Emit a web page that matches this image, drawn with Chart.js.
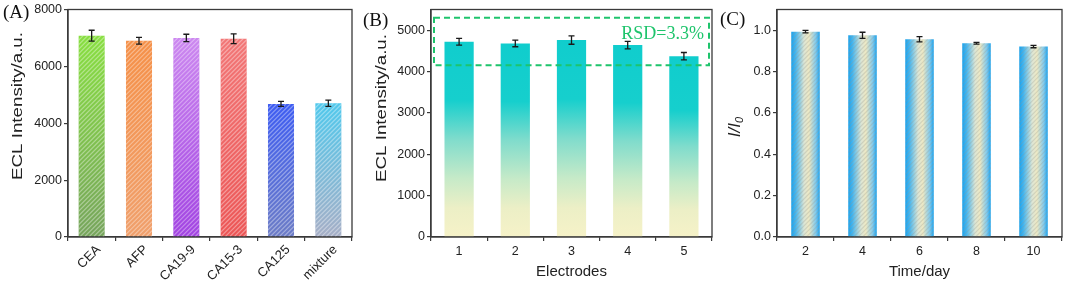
<!DOCTYPE html>
<html><head><meta charset="utf-8">
<script src="https://cdn.jsdelivr.net/npm/chart.js@4.4.0/dist/chart.umd.min.js"></script>
<style>
html,body{margin:0;padding:0;background:#fff;width:1065px;height:281px;overflow:hidden}
.p{position:absolute;top:0;height:281px}
.lab{position:absolute;font-family:'Liberation Serif','Times New Roman',serif;font-size:19px;color:#111;line-height:1;white-space:nowrap}
</style></head><body>
<div class="p" style="left:0;width:356px"><canvas id="cA" width="356" height="281"></canvas></div>
<div class="p" style="left:358px;width:356px"><canvas id="cB" width="356" height="281"></canvas></div>
<div class="p" style="left:716px;width:349px"><canvas id="cC" width="349" height="281"></canvas></div>
<div class="lab" style="left:3px;top:2px">(A)</div>
<div class="lab" style="left:363px;top:10px">(B)</div>
<div class="lab" style="left:720px;top:9px">(C)</div>
<script>
// ---- data ----
const catsA = ['CEA', 'AFP', 'CA19-9', 'CA15-3', 'CA125', 'mixture'];
const valsA = [7080, 6900, 7000, 6970, 4680, 4700];
const errA  = [190, 120, 130, 170, 90, 110];
const yTicksA = [0, 2000, 4000, 6000, 8000];
const topColorsA = ['#88df40', '#f59048', '#cc88f0', '#f27676', '#3d5cf2', '#50c8ec'];
const botColorsA = ['#76a45c', '#f0a06c', '#a244e2', '#ec5656', '#6c7cc6', '#a6aec6'];

const catsB = ['1', '2', '3', '4', '5'];
const valsB = [4720, 4680, 4760, 4640, 4370];
const errB  = [80, 80, 100, 90, 90];
const yTicksB = [0, 1000, 2000, 3000, 4000, 5000];
const rsdRange = [4150, 5300];
const rsdLabel = 'RSD=3.3%';

const catsC = ['2', '4', '6', '8', '10'];
const valsC = [0.993, 0.975, 0.956, 0.937, 0.921];
const errC  = [0.006, 0.015, 0.013, 0.004, 0.006];
const yTicksC = [0, 0.2, 0.4, 0.6, 0.8, 1.0];

const FONT = "'Liberation Sans', Arial, sans-serif";
Chart.defaults.font.family = FONT;
Chart.defaults.color = '#222';
Chart.defaults.animation = false;

const AXIS = '#3a3a3a';

// ---- plugins ----
const framePlugin = {
  id: 'frame',
  afterDatasetsDraw(chart) {
    const a = chart.chartArea, c = chart.ctx;
    c.save(); c.strokeStyle = AXIS; c.lineWidth = 1.3;
    c.strokeRect(a.left, a.top, a.right - a.left, a.bottom - a.top);
    c.restore();
  }
};
const hatchPlugin = {
  id: 'hatch',
  afterDatasetsDraw(chart, args, opts) {
    if (!opts || !opts.color) return;
    const c = chart.ctx;
    chart.getDatasetMeta(0).data.forEach(el => {
      const p = el.getProps(['x', 'y', 'base', 'width'], true);
      const x0 = p.x - p.width / 2, x1 = p.x + p.width / 2, t = p.y, b = p.base, h = b - t;
      c.save();
      c.beginPath(); c.rect(x0, t, x1 - x0, h); c.clip();
      c.strokeStyle = opts.color; c.lineWidth = opts.lineWidth;
      c.beginPath();
      for (let sx = x0 - h; sx < x1 + opts.spacing; sx += opts.spacing) {
        c.moveTo(sx, b); c.lineTo(sx + h, t);
      }
      c.stroke();
      c.restore();
    });
  }
};
const errPlugin = {
  id: 'errbars',
  afterDatasetsDraw(chart, args, opts) {
    if (!opts || !opts.err) return;
    const c = chart.ctx, ys = chart.scales.y, vals = chart.data.datasets[0].data;
    c.save(); c.strokeStyle = '#1a1a1a'; c.lineWidth = 1.3;
    chart.getDatasetMeta(0).data.forEach((el, i) => {
      const x = el.x, yt = ys.getPixelForValue(vals[i] + opts.err[i]), yb = ys.getPixelForValue(vals[i] - opts.err[i]);
      c.beginPath();
      c.moveTo(x, yt); c.lineTo(x, yb);
      c.moveTo(x - 3, yt); c.lineTo(x + 3, yt);
      c.moveTo(x - 3, yb); c.lineTo(x + 3, yb);
      c.stroke();
    });
    c.restore();
  }
};
const yTitlePlugin = {
  id: 'ytitle',
  afterDraw(chart, args, o) {
    if (!o || !o.text) return;
    const c = chart.ctx;
    c.save();
    c.translate(o.x, o.y); c.rotate(-Math.PI / 2);
    c.fillStyle = '#222';
    c.font = (o.italic ? 'italic ' : '') + o.size + 'px ' + FONT;
    c.textBaseline = 'middle';
    if (o.sub) {
      const w = c.measureText(o.text).width;
      c.font = (o.italic ? 'italic ' : '') + Math.round(o.size * 0.65) + 'px ' + FONT;
      const ws = c.measureText(o.sub).width;
      const start = -(w + ws) / 2;
      c.font = (o.italic ? 'italic ' : '') + o.size + 'px ' + FONT;
      c.textAlign = 'left';
      c.fillText(o.text, start, 0);
      c.font = (o.italic ? 'italic ' : '') + Math.round(o.size * 0.65) + 'px ' + FONT;
      c.fillText(o.sub, start + w, o.size * 0.3);
    } else {
      const w = c.measureText(o.text).width;
      const s = o.length ? o.length / w : 1;
      c.scale(s, 1);
      c.textAlign = 'center';
      c.fillText(o.text, 0, 0);
    }
    c.restore();
  }
};
const rsdPlugin = {
  id: 'rsd',
  afterDatasetsDraw(chart, args, o) {
    if (!o || !o.range) return;
    const c = chart.ctx, a = chart.chartArea, ys = chart.scales.y;
    const top = ys.getPixelForValue(o.range[1]), bot = ys.getPixelForValue(o.range[0]);
    const l = a.left + 3, r = a.right - 3;
    c.save();
    c.strokeStyle = '#1ec46c'; c.lineWidth = 2; c.setLineDash([6, 4]);
    c.strokeRect(l, top, r - l, bot - top);
    c.setLineDash([]);
    c.fillStyle = '#1ec46c';
    c.font = "18px 'Liberation Serif', 'Times New Roman', serif";
    c.textAlign = 'right'; c.textBaseline = 'alphabetic';
    c.fillText(o.label, r - 5, top + 21);
    c.restore();
  }
};
Chart.register(framePlugin, hatchPlugin, errPlugin, yTitlePlugin, rsdPlugin);

function axisCommon(extra) {
  return Object.assign({
    grid: { display: true, drawOnChartArea: false, drawTicks: true, tickLength: 4, color: AXIS, lineWidth: 1.2 },
    border: { display: true, color: AXIS, width: 1.3 }
  }, extra);
}

function makeChart(id, cats, vals, opt) {
  return new Chart(document.getElementById(id), {
    type: 'bar',
    data: { labels: cats, datasets: [{ data: vals, backgroundColor: opt.bg, borderWidth: 0,
      categoryPercentage: 1, barPercentage: opt.barPct }] },
    options: {
      responsive: false, devicePixelRatio: 1,
      layout: { padding: { top: 8, right: opt.padRight, bottom: 0, left: 0 } },
      plugins: {
        legend: { display: false }, tooltip: { enabled: false },
        hatch: opt.hatch || {}, errbars: { err: opt.err }, ytitle: opt.ytitle, rsd: opt.rsd || {}
      },
      scales: {
        x: axisCommon({
          ticks: Object.assign({ font: { size: 12.5 }, padding: 3, color: '#222' }, opt.xticks || {}),
          title: opt.xtitle ? { display: true, text: opt.xtitle, font: { size: 15 }, color: '#222', padding: { top: 5, bottom: 0 } } : { display: false },
          afterFit(s) { s.height = 44; }
        }),
        y: axisCommon({
          min: 0, max: opt.ymax,
          ticks: { font: { size: 12.5 }, padding: 2, color: '#222', callback: opt.fmt },
          afterBuildTicks(s) { s.ticks = opt.yticks.map(v => ({ value: v })); },
          afterFit(s) { s.width = opt.yWidth; }
        })
      }
    }
  });
}

makeChart('cA', catsA, valsA, {
  barPct: 0.55, padRight: 4, yWidth: 68, ymax: 8000, yticks: yTicksA, err: errA,
  fmt: v => String(v),
  xticks: { minRotation: 45, maxRotation: 45, padding: 1, labelOffset: 7, font: { size: 13 } },
  hatch: { color: 'rgba(255,255,255,0.38)', lineWidth: 1.2, spacing: 4.5 },
  ytitle: { text: 'ECL Intensity/a.u.', x: 18, y: 106, size: 15, length: 148 },
  bg: ctx => {
    const ch = ctx.chart, a = ch.chartArea, i = ctx.dataIndex;
    if (!a) return topColorsA[i];
    const t = ch.scales.y.getPixelForValue(valsA[i]);
    const g = ch.ctx.createLinearGradient(0, t, 0, a.bottom);
    g.addColorStop(0, topColorsA[i]); g.addColorStop(1, botColorsA[i]);
    return g;
  }
});

makeChart('cB', catsB, valsB, {
  barPct: 0.52, padRight: 2, yWidth: 73, ymax: 5500, yticks: yTicksB, err: errB,
  fmt: v => String(v),
  xtitle: 'Electrodes',
  rsd: { range: rsdRange, label: rsdLabel },
  ytitle: { text: 'ECL Intensity/a.u.', x: 24, y: 108, size: 15, length: 148 },
  bg: ctx => {
    const ch = ctx.chart, a = ch.chartArea, i = ctx.dataIndex;
    if (!a) return '#12cece';
    const t = ch.scales.y.getPixelForValue(valsB[i]);
    const g = ch.ctx.createLinearGradient(0, t, 0, a.bottom);
    g.addColorStop(0, '#10cdcd'); g.addColorStop(0.3, '#16cfcd');
    g.addColorStop(0.5, '#80dccc'); g.addColorStop(0.7, '#c6eac8');
    g.addColorStop(0.85, '#ecefc6'); g.addColorStop(1, '#f6f2c8');
    return g;
  }
});

makeChart('cC', catsC, valsC, {
  barPct: 0.5, padRight: 3, yWidth: 61, ymax: 1.1, yticks: yTicksC, err: errC,
  fmt: v => v.toFixed(1),
  xtitle: 'Time/day',
  hatch: { color: 'rgba(150,150,140,0.28)', lineWidth: 1.1, spacing: 4.5 },
  ytitle: { text: 'I/I', sub: '0', italic: true, x: 19, y: 127, size: 17 },
  bg: ctx => {
    const ch = ctx.chart, a = ch.chartArea, i = ctx.dataIndex;
    if (!a) return '#1aa6f0';
    const xs = ch.scales.x, cx = xs.getPixelForValue(i), hw = (xs.width / catsC.length) * 0.5 / 2;
    const g = ch.ctx.createLinearGradient(cx - hw, 0, cx + hw, 0);
    g.addColorStop(0, '#18a2ee'); g.addColorStop(0.15, '#44b6f0');
    g.addColorStop(0.45, '#dce6d6'); g.addColorStop(0.62, '#eee9c4');
    g.addColorStop(0.86, '#80caee'); g.addColorStop(1, '#18a2ee');
    return g;
  }
});
</script>
</body></html>
